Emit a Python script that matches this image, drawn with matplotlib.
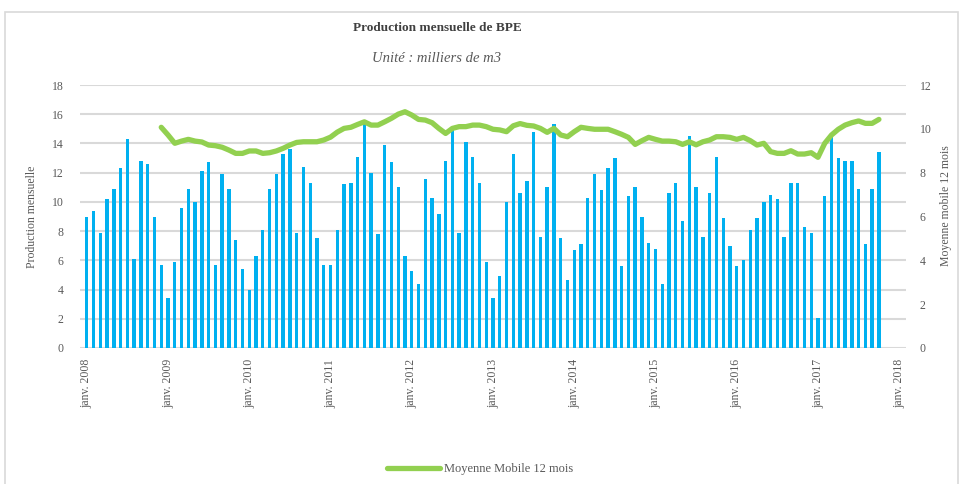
import matplotlib
matplotlib.use("Agg")
import matplotlib.pyplot as plt
from matplotlib.patches import Rectangle
import numpy as np

# ---- Data (thousands of m3), monthly Jan 2008 -> Oct 2017 ----
prod_2008 = [9.0, 9.4, 7.9, 10.2, 10.9, 12.3, 14.3, 6.1, 12.8, 12.6, 9.0, 5.7]
prod_2009 = [3.4, 5.9, 9.6, 10.9, 10.0, 12.1, 12.7, 5.7, 11.9, 10.9, 7.4, 5.4]
prod_2010 = [4.0, 6.3, 8.05, 10.9, 11.9, 13.25, 13.6, 7.9, 12.4, 11.3, 7.5, 5.7]
prod_2011 = [5.7, 8.05, 11.2, 11.3, 13.1, 15.3, 12.0, 7.8, 13.9, 12.7, 11.05, 6.3]
prod_2012 = [5.3, 4.4, 11.6, 10.25, 9.15, 12.8, 14.9, 7.9, 14.07, 13.1, 11.3, 5.9]
prod_2013 = [3.4, 4.9, 10.0, 13.25, 10.6, 11.45, 14.75, 7.6, 11.05, 15.3, 7.5, 4.65]
prod_2014 = [6.7, 7.1, 10.25, 11.9, 10.8, 12.3, 12.97, 5.6, 10.4, 11.05, 9.0, 7.2]
prod_2015 = [6.8, 4.4, 10.6, 11.3, 8.7, 14.5, 11.05, 7.6, 10.6, 13.1, 8.9, 6.95]
prod_2016 = [5.6, 6.0, 8.05, 8.9, 10.0, 10.5, 10.2, 7.6, 11.3, 11.3, 8.3, 7.9]
prod_2017 = [2.04, 10.4, 14.6, 12.97, 12.8, 12.8, 10.9, 7.1, 10.9, 13.4]

production = (prod_2008 + prod_2009 + prod_2010 + prod_2011 + prod_2012 +
              prod_2013 + prod_2014 + prod_2015 + prod_2016 + prod_2017)

# 12-month moving average (right axis), from Dec 2008 -> Oct 2017
ma_start = 11  # month index of Dec 2008
moving_avg = [
    10.07, 9.72, 9.34, 9.44, 9.52, 9.44, 9.40, 9.26, 9.23, 9.16, 9.03, 8.88,
    8.88, 8.99, 8.99, 8.88, 8.91, 8.99, 9.11, 9.26, 9.38, 9.41, 9.41, 9.41,
    9.49, 9.62, 9.85, 10.02, 10.07, 10.20, 10.32, 10.17, 10.17, 10.32, 10.48, 10.67,
    10.78, 10.63, 10.43, 10.40, 10.28, 10.02, 9.79, 10.02, 10.10, 10.10, 10.17, 10.17,
    10.10, 9.98, 9.95, 9.87, 10.14, 10.24, 10.16, 10.13, 10.02, 9.84, 10.02, 9.72,
    9.64, 9.87, 10.07, 10.02, 9.98, 9.98, 9.98, 9.87, 9.75, 9.61, 9.29, 9.46,
    9.61, 9.52, 9.44, 9.44, 9.41, 9.29, 9.41, 9.27, 9.41, 9.49, 9.64, 9.64,
    9.61, 9.52, 9.61, 9.46, 9.26, 9.34, 8.96, 8.88, 8.88, 9.00, 8.85, 8.85,
    8.91, 8.70, 9.34, 9.72, 9.98, 10.17, 10.28, 10.36, 10.25, 10.25, 10.43,
]

years = list(range(2008, 2019))
tick_labels = [f"janv. {y}" for y in years]

title = "Production mensuelle de BPE"
subtitle = "Unité : milliers de m3"
left_label = "Production mensuelle"
right_label = "Moyenne mobile 12 mois"
legend_label = "Moyenne Mobile 12 mois"

# ---- Styling ----
BAR_C = "#00B0F0"
LINE_C = "#92D050"
GRID_C = "#D9D9D9"
TXT_C = "#595959"
TITLE_C = "#404040"
FONT = ["Liberation Serif", "DejaVu Serif"]
plt.rcParams["font.family"] = FONT

W, H = 963, 484
fig = plt.figure(figsize=(W / 100, H / 100), dpi=100)
ax = fig.add_axes([80 / W, 1 - 348 / H, (906 - 80) / W, (348 - 85) / H])

x = np.arange(len(production))
ax.bar(x, production, width=0.5, color=BAR_C, zorder=2)
ax.set_xlim(-1, 121)
ax.set_ylim(0, 18)
ax.set_yticks(np.arange(0, 19, 2))
ax.grid(axis="y", color=GRID_C, linewidth=1.5, zorder=0)
ax.set_axisbelow(True)
for s in ax.spines.values():
    s.set_visible(False)
ax.set_xticks(np.arange(0, 121, 12))
ax.set_xticklabels(tick_labels, rotation=90, fontsize=8, color=TXT_C)
ax.tick_params(axis="both", length=0, labelsize=8.5, colors=TXT_C)
ax.tick_params(axis="x", pad=8)
ax.tick_params(axis="y", pad=12)
ax.set_ylabel(left_label, fontsize=8.5, color=TXT_C, labelpad=10)

ax2 = ax.twinx()
xm = np.arange(ma_start, ma_start + len(moving_avg))
ax2.plot(xm, moving_avg, color=LINE_C, linewidth=3.8, solid_capstyle="round",
         solid_joinstyle="round", label=legend_label, zorder=3)
ax2.set_ylim(0, 12)
ax2.set_yticks(np.arange(0, 13, 2))
for s in ax2.spines.values():
    s.set_visible(False)
ax2.tick_params(axis="y", length=0, labelsize=8.5, colors=TXT_C, pad=10)
ax2.set_ylabel(right_label, fontsize=8.5, color=TXT_C)
ax2.yaxis.label.set_va("center")
ax2.yaxis.set_label_coords(1 + (946 - 906) / (906 - 80), 0.54)

fig.text(437 / W, 1 - 28 / H, title, ha="center", va="center",
         fontsize=9.5, fontweight="bold", color=TITLE_C)
fig.text(437 / W, 1 - 59 / H, subtitle, ha="center", va="center",
         fontsize=10.5, style="italic", color=TXT_C)

leg = fig.legend(handles=ax2.get_lines(), labels=[legend_label], loc="center",
                 bbox_to_anchor=(480 / W, 1 - 469 / H), frameon=False,
                 fontsize=9, handlelength=4.2, handletextpad=0.3)
for t in leg.get_texts():
    t.set_color(TXT_C)

fig.patches.append(Rectangle((5 / W, -0.05), (958 - 5) / W, 1 - 12 / H + 0.05,
                             transform=fig.transFigure, fill=False,
                             edgecolor=GRID_C, linewidth=1.2))

fig.savefig("out.png", dpi=100)
